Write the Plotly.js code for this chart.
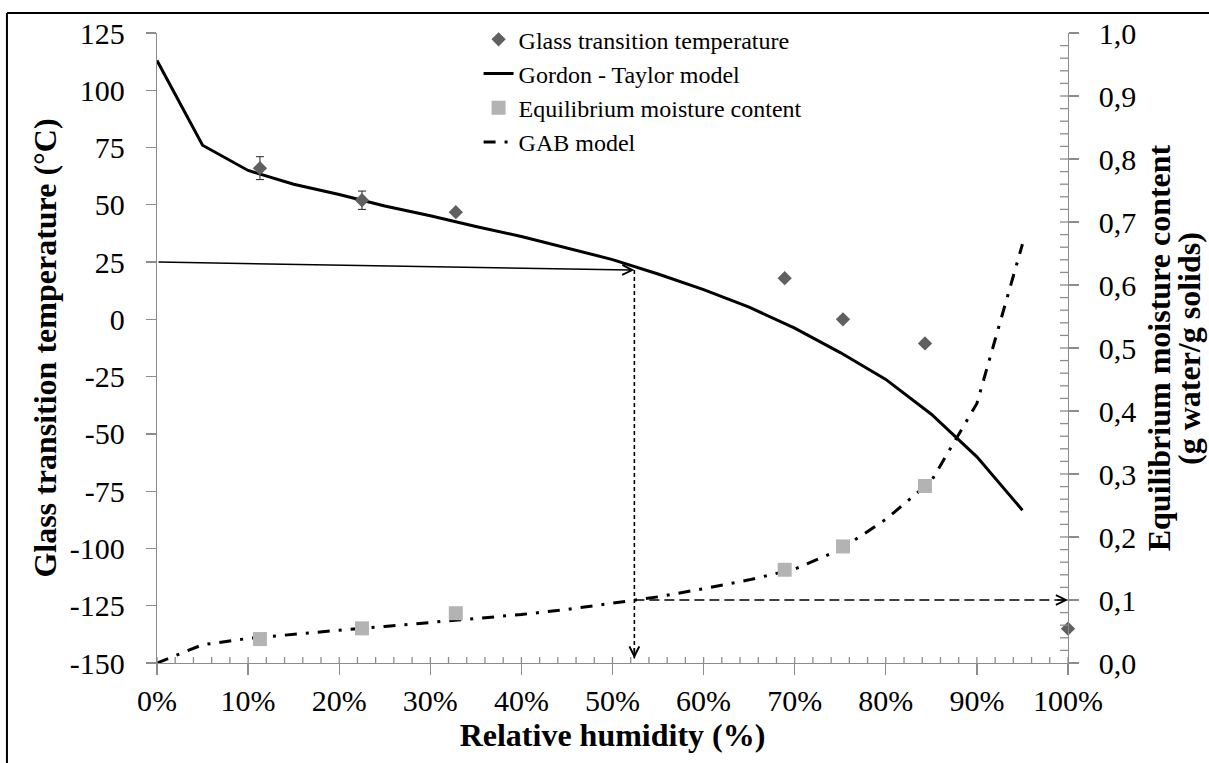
<!DOCTYPE html>
<html>
<head>
<meta charset="utf-8">
<script src="https://cdn.plot.ly/plotly-3.0.1.min.js"></script>
<style>
  html, body { margin: 0; padding: 0; background: #ffffff; }
  #chart { width: 1209px; height: 763px; }
</style>
</head>
<body>
<div id="chart"></div>
<script>
// Model curves, evaluated every 5 % relative humidity
const modelRH = [0, 5, 10, 15, 20, 25, 30, 35, 40, 45, 50, 55, 60, 65, 70, 75, 80, 85, 90, 95];
const gordonTaylorTg = [113, 76, 65, 59, 54.5, 49.5, 45.2, 40.5, 36.2, 31.3, 26.1, 19.8, 13, 5.3, -3.8, -14.5, -26.2, -41.4, -60, -83.3];
const gabMoisture = [0, 0.029, 0.039, 0.046, 0.052, 0.058, 0.064, 0.070, 0.077, 0.085, 0.095, 0.105, 0.118, 0.132, 0.149, 0.180, 0.228, 0.289, 0.412, 0.665];

// Measured glass transition temperatures (last point: pure water)
const tgRH = [11.3, 22.5, 32.8, 68.9, 75.3, 84.3, 100];
const tgMeasured = [66, 52, 46.8, 18, 0, -10.5, -135];
const tgError = [5, 4, 0, 0, 0, 0, 0];

// Measured equilibrium moisture content over the salt solutions
const emcRH = [11.3, 22.5, 32.8, 68.9, 75.3, 84.3];
const emcMeasured = [0.038, 0.055, 0.079, 0.148, 0.185, 0.281];

// Worked example: storage at 25 °C -> critical RH -> critical moisture content
const storageTemp = 25;
const criticalRH = 52.4;
const criticalTg = 21.5;
const criticalEMC = 0.1;
const axisMinTemp = -148;

// Tick values and labels
const rhTicks = [0, 10, 20, 30, 40, 50, 60, 70, 80, 90, 100];
const rhTickText = ['0%', '10%', '20%', '30%', '40%', '50%', '60%', '70%', '80%', '90%', '100%'];
const rhMinorTicks = [2, 4, 6, 8, 12, 14, 16, 18, 22, 24, 26, 28, 32, 34, 36, 38, 42, 44, 46, 48,
  52, 54, 56, 58, 62, 64, 66, 68, 72, 74, 76, 78, 82, 84, 86, 88, 92, 94, 96, 98];
const tempTicks = [-150, -125, -100, -75, -50, -25, 0, 25, 50, 75, 100, 125];
const tempTickText = ['-150', '-125', '-100', '-75', '-50', '-25', '0', '25', '50', '75', '100', '125'];
const emcTicks = [0, 0.1, 0.2, 0.3, 0.4, 0.5, 0.6, 0.7, 0.8, 0.9, 1.0];
const emcTickText = ['0,0', '0,1', '0,2', '0,3', '0,4', '0,5', '0,6', '0,7', '0,8', '0,9', '1,0'];
const emcMinorStep = 0.02;

const serif = 'Liberation Serif';
const axisGrey = '#8c8c8c';
const labelGapLeft = '\u00a0\u00a0';
const labelGapRight = '\u00a0\u2009';

const traces = [
  {
    name: 'Gordon - Taylor model', legendrank: 2,
    x: modelRH, y: gordonTaylorTg, type: 'scatter', mode: 'lines',
    line: { color: '#000000', width: 3 },
    xaxis: 'x', yaxis: 'y', hoverinfo: 'skip'
  },
  {
    name: 'critical RH', showlegend: false,
    x: [criticalRH, criticalRH], y: [criticalTg, axisMinTemp], type: 'scatter', mode: 'lines',
    line: { color: '#000000', width: 1.6, dash: '4px,3px' },
    xaxis: 'x', yaxis: 'y', hoverinfo: 'skip'
  },
  {
    name: 'Glass transition temperature', legendrank: 1,
    x: tgRH, y: tgMeasured, type: 'scatter', mode: 'markers',
    marker: { symbol: 'diamond', size: 11, color: '#606060' },
    error_y: { type: 'data', array: tgError, visible: true, color: '#222222', thickness: 1, width: 4 },
    cliponaxis: false, xaxis: 'x', yaxis: 'y'
  },
  {
    name: 'GAB model', legendrank: 4,
    x: modelRH, y: gabMoisture, type: 'scatter', mode: 'lines',
    line: { color: '#000000', width: 3, dash: '12px,9px,3px,9px' },
    xaxis: 'x', yaxis: 'y2', hoverinfo: 'skip'
  },
  {
    name: 'critical moisture', showlegend: false,
    x: [criticalRH, 100], y: [criticalEMC, criticalEMC], type: 'scatter', mode: 'lines',
    line: { color: '#000000', width: 1.6, dash: '10px,5px' },
    xaxis: 'x', yaxis: 'y2', hoverinfo: 'skip'
  },
  {
    name: 'Equilibrium moisture content', legendrank: 3,
    x: emcRH, y: emcMeasured, type: 'scatter', mode: 'markers',
    marker: { symbol: 'square', size: 14, color: '#b3b3b3' },
    cliponaxis: false, xaxis: 'x', yaxis: 'y2'
  }
];

const tickFont = { family: serif, size: 30, color: '#000000' };
const titleFont = { family: serif, size: 32, color: '#000000' };

const layout = {
  width: 1209, height: 763,
  margin: { l: 157, r: 141, t: 33, b: 100, pad: 0 },
  paper_bgcolor: '#ffffff', plot_bgcolor: '#ffffff',
  font: { family: serif, size: 24, color: '#000000' },
  showlegend: true,
  legend: {
    x: 0.353, y: 1.025, xanchor: 'left', yanchor: 'top',
    font: { family: serif, size: 24, color: '#000000' },
    bgcolor: 'rgba(0,0,0,0)', borderwidth: 0, tracegroupgap: 0
  },
  xaxis: {
    range: [0, 100], showgrid: false, zeroline: false,
    showline: true, linecolor: axisGrey, linewidth: 1.3,
    ticks: 'outside', ticklen: 11, tickwidth: 1.3, tickcolor: axisGrey,
    tickmode: 'array', tickvals: rhTicks, ticktext: rhTickText,
    tickfont: tickFont,
    title: { text: '<b>Relative humidity (%)</b>', font: titleFont, standoff: 6 }
  },
  yaxis: {
    range: [-150, 125], showgrid: false, zeroline: false,
    showline: true, linecolor: axisGrey, linewidth: 1.3,
    ticks: 'outside', ticklen: 10, tickwidth: 1.3, tickcolor: axisGrey,
    tickmode: 'array', tickvals: tempTicks, ticktext: tempTickText.map(t => t + labelGapLeft),
    tickfont: tickFont,
    title: { text: '<b>Glass transition temperature (°C)</b>', font: titleFont, standoff: 3 }
  },
  yaxis2: {
    range: [0, 1], overlaying: 'y', side: 'right', anchor: 'x',
    showgrid: false, zeroline: false,
    showline: true, linecolor: axisGrey, linewidth: 1.3,
    ticks: 'outside', ticklen: 10, tickwidth: 1.3, tickcolor: axisGrey,
    tickmode: 'array', tickvals: emcTicks, ticktext: emcTickText.map(t => labelGapRight + t),
    tickfont: tickFont,
    title: { text: '<b>Equilibrium moisture content</b>', font: titleFont, standoff: 12 }
  },
  annotations: [
    // second line of the moisture axis title
    {
      xref: 'paper', yref: 'paper', x: 1.1328, y: 0.5, xanchor: 'center', yanchor: 'middle',
      text: '<b>(g water/g solids)</b>', textangle: -90, showarrow: false,
      font: titleFont
    },
    // storage temperature -> Gordon-Taylor curve
    {
      xref: 'x', yref: 'y', axref: 'x', ayref: 'y',
      x: criticalRH, y: criticalTg, ax: 0, ay: storageTemp,
      text: '', showarrow: true, arrowhead: 5, arrowsize: 1.3, arrowwidth: 1.5,
      arrowcolor: '#000000', standoff: 0
    },
    // head of the vertical dashed guide
    {
      xref: 'x', yref: 'y', x: criticalRH, y: axisMinTemp, ax: 0, ay: -12,
      text: '', showarrow: true, arrowhead: 5, arrowsize: 1.3, arrowwidth: 1.5,
      arrowcolor: '#000000', standoff: 0
    },
    // head of the horizontal dashed guide
    {
      xref: 'x', yref: 'y2', x: 100, y: criticalEMC, ax: -12, ay: 0,
      text: '', showarrow: true, arrowhead: 5, arrowsize: 1.3, arrowwidth: 1.5,
      arrowcolor: '#000000', standoff: 0
    }
  ],
  shapes: [
    // outer frame
    { type: 'line', xref: 'paper', yref: 'paper', x0: -0.1647, x1: -0.1647, y0: 1.0317, y1: -0.3,
      line: { color: '#000000', width: 2 } },
    { type: 'line', xref: 'paper', yref: 'paper', x0: -0.1647, x1: 1.3, y0: 1.0317, y1: 1.0317,
      line: { color: '#000000', width: 2 } }
  ]
};

// inner tick marks: 2 % steps on the humidity axis, 0.02 steps on the moisture axis
rhTicks.concat(rhMinorTicks).forEach(function (v) {
  layout.shapes.push({ type: 'line', xref: 'x', yref: 'paper', x0: v, x1: v, y0: 0, y1: 6 / 630,
    line: { color: axisGrey, width: 1.3 } });
});
for (let v = emcMinorStep; v < 1; v += emcMinorStep) {
  layout.shapes.push({ type: 'line', xref: 'paper', yref: 'y2', x0: 1 - 8 / 911, x1: 1, y0: v, y1: v,
    line: { color: axisGrey, width: 1.3 } });
}

Plotly.newPlot('chart', traces, layout, { displayModeBar: false, staticPlot: true });
</script>
</body>
</html>
